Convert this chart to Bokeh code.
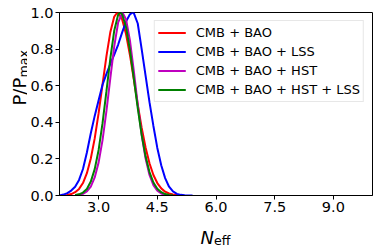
import math
from bokeh.plotting import figure
from bokeh.layouts import row, column
from bokeh.models import (Range1d, FixedTicker, PrintfTickFormatter, Legend,
                          LegendItem, Label)
from bokeh.embed import file_html
from bokeh.resources import INLINE

# ---- data ----
x_cmb_bao = [2.1, 2.2, 2.3, 2.4, 2.5, 2.6, 2.7, 2.8, 2.9, 3.0, 3.1, 3.2, 3.3, 3.4,
             3.48, 3.5, 3.6, 3.7, 3.8, 3.9, 4.0, 4.1, 4.2, 4.3, 4.4, 4.5, 4.6,
             4.7, 4.8, 4.9, 5.0, 5.1]
y_cmb_bao = [0.001, 0.003, 0.008, 0.018, 0.036, 0.068, 0.122, 0.202, 0.312, 0.450,
             0.607, 0.762, 0.894, 0.978, 1.0, 0.999, 0.963, 0.882, 0.768, 0.634,
             0.497, 0.370, 0.262, 0.176, 0.112, 0.068, 0.039, 0.021, 0.011,
             0.0055, 0.0026, 0.0011]

x_cmb_bao_lss = [2.0, 2.1, 2.2, 2.3, 2.4, 2.5, 2.6, 2.7, 2.8, 2.9, 3.0, 3.1, 3.2,
                 3.3, 3.4, 3.5, 3.6, 3.7, 3.8, 3.87, 3.9, 4.0, 4.1, 4.2, 4.3, 4.4,
                 4.5, 4.6, 4.7, 4.8, 4.9, 5.0, 5.1, 5.2, 5.4]
y_cmb_bao_lss = [0.0, 0.005, 0.013, 0.027, 0.048, 0.085, 0.145, 0.235, 0.34, 0.435,
                 0.52, 0.605, 0.665, 0.72, 0.77, 0.825, 0.89, 0.95, 0.99, 1.0,
                 0.997, 0.94, 0.80, 0.655, 0.51, 0.38, 0.26, 0.165, 0.095, 0.048,
                 0.022, 0.009, 0.0035, 0.0012, 0.0]

x_cmb_bao_hst = [2.4, 2.5, 2.6, 2.7, 2.8, 2.9, 3.0, 3.1, 3.2, 3.3, 3.4, 3.5, 3.61,
                 3.7, 3.8, 3.9, 4.0, 4.1, 4.2, 4.3, 4.4, 4.5, 4.6, 4.7, 4.8]
y_cmb_bao_hst = [0.0012, 0.0035, 0.0093, 0.022, 0.049, 0.099, 0.181, 0.303, 0.462,
                 0.643, 0.817, 0.946, 1.0, 0.963, 0.847, 0.680, 0.497, 0.332,
                 0.202, 0.112, 0.057, 0.026, 0.011, 0.0043, 0.0015]

x_cmb_bao_hst_lss = [2.4, 2.5, 2.6, 2.7, 2.8, 2.9, 3.0, 3.1, 3.2, 3.3, 3.4, 3.5,
                     3.55, 3.6, 3.7, 3.8, 3.9, 4.0, 4.1, 4.2, 4.3, 4.4, 4.5, 4.6,
                     4.7, 4.8, 4.9]
y_cmb_bao_hst_lss = [0.0023, 0.0064, 0.016, 0.036, 0.076, 0.144, 0.249, 0.395,
                     0.570, 0.750, 0.902, 0.989, 1.0, 0.991, 0.921, 0.796, 0.639,
                     0.477, 0.331, 0.214, 0.128, 0.071, 0.037, 0.018, 0.008,
                     0.0033, 0.0013]

series_labels = ["CMB + BAO", "CMB + BAO + LSS", "CMB + BAO + HST",
                 "CMB + BAO + HST + LSS"]
series_colors = ["#ff0000", "#0000ff", "#bf00bf", "#008000"]
x_ticks = [3.0, 4.5, 6.0, 7.5, 9.0]
y_ticks = [0.0, 0.2, 0.4, 0.6, 0.8, 1.0]

FONT = "DejaVu Sans"

# ---- main plot ----
p = figure(width=355, height=220, output_backend="svg", toolbar_location=None,
           x_range=Range1d(2.0, 10.0), y_range=Range1d(0.0, 1.0),
           min_border_left=30, min_border_right=10, min_border_top=12,
           min_border_bottom=25)
p.background_fill_color = "white"
p.border_fill_color = "white"
p.outline_line_color = "black"
p.outline_line_width = 1
p.outline_line_alpha = 1
p.xgrid.visible = False
p.ygrid.visible = False

xs = [x_cmb_bao, x_cmb_bao_lss, x_cmb_bao_hst, x_cmb_bao_hst_lss]
ys = [y_cmb_bao, y_cmb_bao_lss, y_cmb_bao_hst, y_cmb_bao_hst_lss]
items = []
for xv, yv, lab, col in zip(xs, ys, series_labels, series_colors):
    r = p.line(xv, yv, line_color=col, line_width=2)
    items.append(LegendItem(label=lab, renderers=[r]))

for ax, ticks in ((p.xaxis[0], x_ticks), (p.yaxis[0], y_ticks)):
    ax.ticker = FixedTicker(ticks=ticks)
    ax.formatter = PrintfTickFormatter(format="%.1f")
    ax.minor_tick_line_color = None
    ax.major_tick_in = 0
    ax.major_tick_out = 4
    ax.major_tick_line_color = "black"
    ax.axis_line_color = "black"
    ax.major_label_text_font = FONT
    ax.major_label_text_font_size = "14.5px"
    ax.major_label_text_color = "black"
p.xaxis.major_label_standoff = 2
p.yaxis.major_label_standoff = 2

legend = Legend(items=items, location="top_right", margin=8,
                label_text_font=FONT, label_text_font_size="13px",
                label_text_color="black",
                glyph_width=28, glyph_height=17, label_height=17,
                label_standoff=10, spacing=2, padding=3,
                border_line_color="#d0d0d0", border_line_width=1,
                background_fill_color="white", background_fill_alpha=0.8)
p.add_layout(legend)


def text_strip(w, h):
    f = figure(width=w, height=h, output_backend="svg", toolbar_location=None,
               x_axis_type=None, y_axis_type=None, min_border=0,
               x_range=Range1d(0, 1), y_range=Range1d(0, 1))
    f.outline_line_color = None
    f.background_fill_color = "white"
    f.border_fill_color = "white"
    f.xgrid.visible = False
    f.ygrid.visible = False
    return f


lab_style = dict(x_units="screen", y_units="screen", text_font=FONT,
                 text_color="black", text_baseline="alphabetic",
                 text_align="left")

# y-axis title strip (left of the plot)
ylab = text_strip(27, 220)
ylab.add_layout(Label(x=19.3, y=90, text="P/P", angle=math.pi / 2,
                      text_font_size="18px", **lab_style))
ylab.add_layout(Label(x=22.8, y=118, text="max", angle=math.pi / 2,
                      text_font_size="12.6px", **lab_style))

# x-axis title strip (below the plot)
xlab = text_strip(382, 29)
xlab.add_layout(Label(x=200, y=12.3, text="N", text_font_size="18px",
                      text_font_style="italic", **lab_style))
xlab.add_layout(Label(x=213.5, y=8.8, text="eff", text_font_size="12.6px",
                      **lab_style))

layout = column(row(ylab, p, spacing=0), xlab, spacing=0)

open("out.html", "w").write(file_html(layout, INLINE))
